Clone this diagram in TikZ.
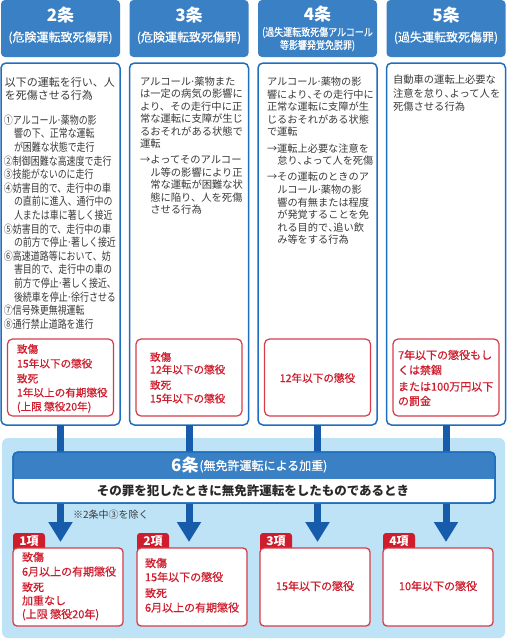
\documentclass[tikz,border=0pt]{standalone}
\usepackage{fontspec}
\setmainfont{Noto Sans CJK JP}
\newfontfamily\cond[FakeStretch=0.8]{Noto Sans CJK JP}
\newfontfamily\condh[FakeStretch=0.84]{Noto Sans CJK JP}
\newfontfamily\medf[FakeBold=0.6]{Noto Sans CJK JP}
\newfontfamily\medc[FakeStretch=0.84,FakeBold=0.5]{Noto Sans CJK JP}
\usetikzlibrary{arrows.meta}
\definecolor{hdr}{RGB}{58,128,196}
\definecolor{bord}{RGB}{32,110,190}
\definecolor{barc}{RGB}{22,92,170}
\definecolor{bandc}{RGB}{190,227,247}
\definecolor{redc}{RGB}{206,30,46}
\definecolor{redb}{RGB}{214,60,72}
\definecolor{txt}{RGB}{58,58,58}
\definecolor{dark}{RGB}{40,40,40}
\newcommand\tc{\makebox[0.5em][l]{、}}
\newcommand\md{\makebox[0.3em][c]{·}}
\newcommand\ind{\hspace*{10pt}}
\newcommand\indb{\hspace*{10.3pt}}
\newcommand\tblock[6]{\foreach \t [count=\i from 0] in {#6} {\node[#5, anchor=west] (#1-\i) at (#2,{#3+\i*#4}) {\t};}}
\tikzset{
  sz/.style={inner sep=0pt, outer sep=0pt, text height=0.88*#1pt, text depth=0.12*#1pt},
  hdrbox/.style={fill=hdr, rounded corners=4pt, minimum width=119pt, minimum height=57pt, inner sep=0pt, outer sep=0pt},
  colbox/.style={draw=bord, line width=1.5pt, fill=white, rounded corners=5pt, minimum width=119pt, minimum height=362pt, inner sep=0pt, outer sep=0pt},
  redbox/.style={draw=redb, line width=1.2pt, fill=white, rounded corners=5pt, minimum width=106pt, minimum height=77pt, inner sep=0pt, outer sep=0pt},
  pbox/.style={draw=redb, line width=1.3pt, fill=white, rounded corners=4pt, minimum width=110pt, minimum height=78pt, inner sep=0pt, outer sep=0pt},
  htitle/.style={sz=17, font=\fontsize{17}{17}\selectfont\bfseries, text=white},
  hsub/.style={sz=12, font=\medf\fontsize{12}{12}\selectfont, text=white},
  hsubc/.style={sz=10.7, font=\medc\fontsize{10.7}{10.7}\selectfont, text=white},
  tintro/.style={sz=11, font=\fontsize{11}{11}\selectfont, text=txt},
  cnd/.style={sz=11.2, font=\cond\fontsize{11.2}{11.2}\selectfont, text=txt},
  body/.style={sz=10.3, font=\fontsize{10.3}{10.3}\selectfont, text=txt},
  bodys/.style={sz=10.2, font=\fontsize{10.2}{10.2}\selectfont, text=txt},
  redt/.style={sz=10.6, font=\medf\fontsize{10.6}{10.6}\selectfont, text=redc},
  redl/.style={sz=11, font=\medf\fontsize{11}{11}\selectfont, text=redc},
  barline/.style={line width=7pt, draw=barc, -{Triangle[width=23pt,length=20pt]}},
  tabt/.style={sz=12, font=\fontsize{12}{12}\selectfont\bfseries, text=white},
}
\begin{document}
\begin{tikzpicture}[x=1pt,y=-1pt]
\useasboundingbox (0,0) rectangle (507,640);
% ---- headers
\node[hdrbox] (h1) at (60.5,28.5) {};
\node[hdrbox] (h2) at (189,28.5) {};
\node[hdrbox] (h3) at (317.5,28.5) {};
\node[hdrbox] (h4) at (446,28.5) {};
\node[htitle] (h1t) at (60.5,15.5) {2条};
\node[hsub] (h1s) at (60.5,37) {(危険運転致死傷罪)};
\node[htitle] (h2t) at (189,15.5) {3条};
\node[hsub] (h2s) at (189,37) {(危険運転致死傷罪)};
\node[htitle] (h3t) at (317.5,14) {4条};
\node[hsubc] (h3s) at (317.5,32) {(過失運転致死傷アルコール};
\node[hsubc] (h3u) at (317.5,45) {等影響発覚免脱罪)};
\node[htitle] (h4t) at (446,15.5) {5条};
\node[hsub] (h4s) at (446,37) {(過失運転致死傷罪)};
% ---- column boxes
\node[colbox] (b1) at (60.5,244) {};
\node[colbox] (b2) at (189,244) {};
\node[colbox] (b3) at (317.5,244) {};
\node[colbox] (b4) at (446,244) {};
\node[redbox] (r1) at (60.5,377.5) {};
\node[redbox] (r2) at (189,377.5) {};
\node[redbox] (r3) at (317.5,377.5) {};
\node[redbox] (r4) at (446,377.5) {};
% ---- column 1 text
\tblock{c1a}{5}{82}{13}{tintro}{以下の運転を行い、人, を死傷させる行為}
\tblock{c1b}{4}{120}{13.6}{cnd}{①アルコール\md 薬物の影, \ind 響の下、正常な運転, \ind が困難な状態で走行, ②制御困難な高速度で走行, ③技能がないのに走行, ④妨害目的で、走行中の車, \ind の直前に進入、通行中の, \ind 人または車に著しく接近, ⑤妨害目的で、走行中の車, \ind の前方で停止\md 著しく接近, ⑥高速道路等において、妨, \ind 害目的で、走行中の車の, \ind 前方で停止\md 著しく接近\tc, \ind 後続車を停止\md 徐行させる, ⑦信号殊更無視運転, ⑧通行禁止道路を進行}
\tblock{c1r}{17}{349}{14.5}{redt}{致傷, 15年以下の懲役}
\tblock{c1s}{17}{378.5}{14}{redt}{致死, 1年以上の有期懲役, {(上限 懲役20年)}}
% ---- column 2 text
\tblock{c2a}{140}{81.7}{12.35}{body}{アルコール\md 薬物また, は一定の病気の影響に, より、その走行中に正, 常な運転に支障が生じ, るおそれがある状態で, 運転}
\tblock{c2b}{140}{160}{12.5}{body}{→よってそのアルコー, \indb ル等の影響により正, \indb 常な運転が困難な状, \indb 態に陥り、人を死傷, \indb させる行為}
\tblock{c2r}{150}{357}{12.5}{redt}{致傷, 12年以下の懲役}
\tblock{c2s}{150}{385}{13.5}{redt}{致死, 15年以下の懲役}
% ---- column 3 text
\tblock{c3a}{267}{82}{12.5}{bodys}{アルコール\md 薬物の影, 響により\tc その走行中に, 正常な運転に支障が生, じるおそれがある状態, で運転}
\tblock{c3b}{267}{148.5}{12.5}{bodys}{→運転上必要な注意を, \indb 怠り\tc よって人を死傷}
\tblock{c3c}{267}{177}{12.6}{bodys}{→その運転のときのア, \indb ルコール\md 薬物の影, \indb 響の有無または程度, \indb が発覚することを免, \indb れる目的で\tc 追い飲, \indb み等をする行為}
\node[redt] (c3r) at (317.5,378) {12年以下の懲役};
% ---- column 4 text
\tblock{c4a}{393}{80}{13.3}{body}{自動車の運転上必要な, 注意を怠り\tc よって人を, 死傷させる行為}
\tblock{c4r}{398}{355}{15}{redl}{7年以下の懲役もし, くは禁錮}
\tblock{c4s}{398}{386.5}{14.5}{redl}{または100万円以下, の罰金}
% ---- band
\fill[bandc, rounded corners=6pt] (2,438) rectangle (505,638);
% ---- bars and arrows
\coordinate (t1) at (60.5,542);
\coordinate (t2) at (189,542);
\coordinate (t3) at (317.5,542);
\coordinate (t4) at (446,542);
\draw[barline] (b1.south) -- (t1);
\draw[barline] (b2.south) -- (t2);
\draw[barline] (b3.south) -- (t3);
\draw[barline] (b4.south) -- (t4);
% ---- article 6 box
\node[draw=bord, line width=1.5pt, fill=white, rounded corners=5pt, minimum width=482pt, minimum height=51pt, inner sep=0pt, outer sep=0pt] (s6) at (254,477.5) {};
\begin{scope}
\clip[rounded corners=5pt] (s6.north west) rectangle (s6.south east);
\fill[hdr] (s6.north west) rectangle ([yshift=-27pt]s6.north east);
\end{scope}
\draw[bord, line width=1.5pt, rounded corners=5pt] (s6.north west) rectangle (s6.south east);
\node[htitle, anchor=east] (s6a) at (198.5,465) {6条};
\node[hsub, anchor=west] (s6b) at (199.5,465.5) {(無免許運転による加重)};
\node[sz=12.5, font=\fontsize{12.5}{12.5}\selectfont\bfseries, text=dark] (s6c) at (253,491) {その罪を犯したときに無免許運転をしたものであるとき};
\node[sz=10, font=\fontsize{10}{10}\selectfont, text=txt, anchor=west] (note) at (73,515) {※2条中③を除く};
% ---- bottom boxes
\fill[redc, rounded corners=3pt] (13,552) rectangle (45,533);
\fill[redc, rounded corners=3pt] (137,552) rectangle (169,533);
\fill[redc, rounded corners=3pt] (260,552) rectangle (292,533);
\fill[redc, rounded corners=3pt] (383,552) rectangle (415,533);
\node[pbox] (p1) at (68,587) {};
\node[pbox] (p2) at (192,587) {};
\node[pbox] (p3) at (315,587) {};
\node[pbox] (p4) at (438,587) {};
\node[tabt] (q1) at (29,540.5) {1項};
\node[tabt] (q2) at (153,540.5) {2項};
\node[tabt] (q3) at (276,540.5) {3項};
\node[tabt] (q4) at (399,540.5) {4項};
\tblock{p1a}{22}{557}{14.5}{redl}{致傷, 6月以上の有期懲役}
\tblock{p1b}{22}{587}{13.5}{redl}{致死, 加重なし, {(上限 懲役20年)}}
\tblock{p2a}{145}{563}{14}{redl}{致傷, 15年以下の懲役}
\tblock{p2b}{145}{593}{14.5}{redl}{致死, 6月以上の有期懲役}
\node[redl] (p3t) at (315,586) {15年以下の懲役};
\node[redl] (p4t) at (438,586) {10年以下の懲役};
\end{tikzpicture}
\end{document}
